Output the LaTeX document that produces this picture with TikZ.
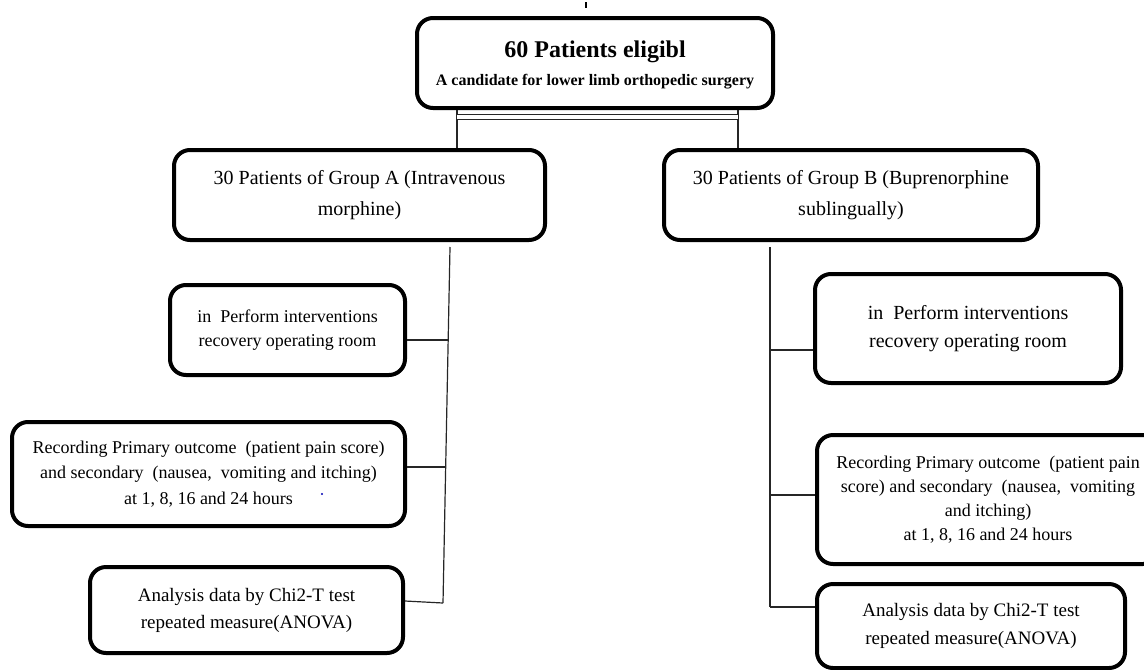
\documentclass[tikz,border=0pt]{standalone}
\usepackage{fontspec}
\setmainfont{Liberation Serif}
\usetikzlibrary{positioning}

\begin{document}
\begin{tikzpicture}[x=0.5pt,y=-0.5pt,
    flowbox/.style={draw, line width=2pt, rounded corners=8pt, align=center, inner sep=2pt},
    link/.style={line width=0.6pt, black!85}]
\useasboundingbox (0,0) rectangle (1144,669);

% small tick above the top box
\draw[line width=1.2pt] (586,2) -- (586,8);

% top box
\node[flowbox, minimum width=178pt, minimum height=45pt] (top) at (595,63) {};
\node[font=\fontsize{12}{14}\selectfont\bfseries] (title) at (595,52) {60 Patients eligibl};
\node[font=\fontsize{8}{10}\selectfont\bfseries] (subtitle) at (595,82) {A candidate for lower limb orthopedic surgery};

% the two groups
\node[flowbox, minimum width=185.5pt, minimum height=45pt, font=\fontsize{10}{15.5}\selectfont] (grpA) at (359.5,195)
    {30 Patients of Group A (Intravenous\\morphine)};
\node[flowbox, minimum width=187pt, minimum height=45pt, font=\fontsize{10}{15.5}\selectfont] (grpB) at (851,195)
    {30 Patients of Group B (Buprenorphine\\sublingually)};

% group A steps
\node[flowbox, minimum width=117.5pt, minimum height=45pt, font=\fontsize{9}{12}\selectfont] (perfA) at (287.5,330)
    {in\ \ Perform interventions\\recovery operating room};
\node[flowbox, minimum width=196.5pt, minimum height=52pt, font=\fontsize{9}{12.75}\selectfont] (recA) at (208.5,474)
    {Recording Primary outcome\ \ (patient pain score)\\and secondary\ \ (nausea,\ \ vomiting and itching)\\at 1, 8, 16 and 24 hours};
\node[flowbox, minimum width=156.5pt, minimum height=43pt, font=\fontsize{9.5}{13.5}\selectfont] (anaA) at (246.5,610)
    {Analysis data by Chi2-T test\\repeated measure(ANOVA)};

% group B steps
\node[flowbox, minimum width=153pt, minimum height=54.5pt, font=\fontsize{10}{14}\selectfont] (perfB) at (968,328.5)
    {in\ \ Perform interventions\\recovery operating room};
\node[flowbox, minimum width=171pt, minimum height=64.5pt, font=\fontsize{9}{12}\selectfont] (recB) at (988,499.5)
    {Recording Primary outcome\ \ (patient pain\\score) and secondary\ \ (nausea,\ \ vomiting\\and itching)\\at 1, 8, 16 and 24 hours};
\node[flowbox, minimum width=154pt, minimum height=42pt, font=\fontsize{9.5}{14}\selectfont] (anaB) at (971,626)
    {Analysis data by Chi2-T test\\repeated measure(ANOVA)};

% split below the top box
\coordinate (jA) at (457,117);
\coordinate (jB) at (738,117);
\draw[link] (top.south -| jA) -- (grpA.north -| jA);
\draw[link] (top.south -| jB) -- (grpB.north -| jB);
\draw[link, double distance=2pt] (jA) -- (jB);

% trunk of group A
\coordinate (tA) at (450,247);
\coordinate (bA) at (443,603);
\draw[link] (tA) -- (bA);
\draw[link] (perfA.east |- 0,340) -- (448,340);
\draw[link] (recA.east |- 0,467) -- (445.5,467);
\draw[link] (anaA.east |- 0,601) -- (bA);

% trunk of group B
\coordinate (tB) at (770,247);
\coordinate (bB) at (770,607);
\draw[link] (tB) -- (bB);
\draw[link] (770,350) -- (perfB.west |- 0,350);
\draw[link] (770,495) -- (recB.west |- 0,495);
\draw[link] (bB) -- (anaB.west |- bB);

% stray dot
\fill[blue!70!black] (322,494) circle (0.6pt);
\end{tikzpicture}
\end{document}
